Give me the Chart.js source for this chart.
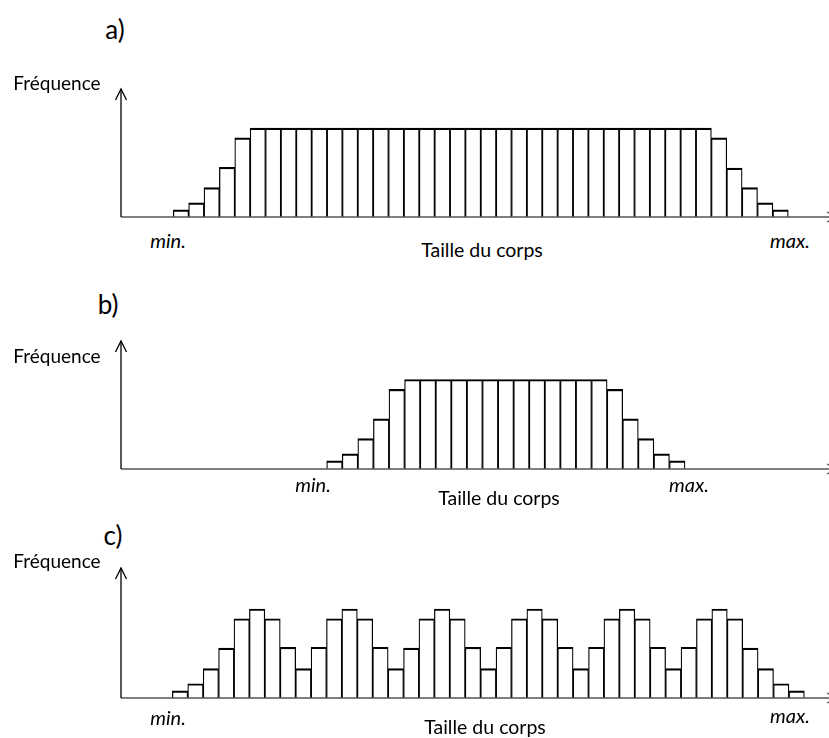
<!DOCTYPE html>
<html>
<head>
<meta charset="utf-8">
<script src="https://cdn.jsdelivr.net/npm/chart.js@4/dist/chart.umd.min.js"></script>
<style>
  html, body { margin: 0; padding: 0; background: #fff; overflow: hidden; }
  #page { position: relative; width: 829px; height: 738px; font-family: Lato, "Noto Sans", sans-serif; color: #000; }
  canvas { position: absolute; left: 0; }
  .lbl { position: absolute; transform: translate(-50%, -50%); white-space: nowrap; z-index: 2; }
  .lettre { font-size: 26px; }
  .freq { font-size: 19px; }
  .taille { font-size: 19.5px; }
  .borne { font-size: 20px; font-style: italic; }
</style>
</head>
<body>
<div id="page">
  <canvas id="panneauA" width="829" height="148" style="top:79px"></canvas>
  <canvas id="panneauB" width="829" height="148" style="top:331px"></canvas>
  <canvas id="panneauC" width="829" height="150" style="top:558px"></canvas>

  <div class="lbl lettre" style="left:115px;top:29px">a)</div>
  <div class="lbl freq" style="left:57px;top:82px">Fréquence</div>
  <div class="lbl borne" style="left:168px;top:240px">min.</div>
  <div class="lbl borne" style="left:790px;top:240px">max.</div>
  <div class="lbl taille" style="left:482px;top:249px">Taille du corps</div>

  <div class="lbl lettre" style="left:108px;top:304px">b)</div>
  <div class="lbl freq" style="left:57px;top:355px">Fréquence</div>
  <div class="lbl borne" style="left:313px;top:484px">min.</div>
  <div class="lbl borne" style="left:689px;top:484px">max.</div>
  <div class="lbl taille" style="left:499px;top:497px">Taille du corps</div>

  <div class="lbl lettre" style="left:113px;top:535px">c)</div>
  <div class="lbl freq" style="left:57px;top:560px">Fréquence</div>
  <div class="lbl borne" style="left:168px;top:717px">min.</div>
  <div class="lbl borne" style="left:790px;top:715px">max.</div>
  <div class="lbl taille" style="left:485px;top:726px">Taille du corps</div>
</div>
<script>
// fréquences (plateau = 100)
const freqA = [8, 16, 33, 56, 89,
  100, 100, 100, 100, 100, 100, 100, 100, 100, 100,
  100, 100, 100, 100, 100, 100, 100, 100, 100, 100,
  100, 100, 100, 100, 100, 100, 100, 100, 100, 100,
  89, 55, 33, 16, 8]

const freqB = [9, 17, 34, 56, 89,
  100, 100, 100, 100, 100, 100, 100, 100, 100, 100, 100, 100, 100,
  89, 56, 34, 17, 9]

const freqC = [8, 16, 33, 56, 89, 100, 89, 57, 33, 57, 89, 100, 89, 57, 33,
  56, 89, 100, 89, 57, 33, 57, 89, 100, 89, 57, 33, 57, 89, 100, 89,
  57, 33, 57, 89, 100, 89, 56, 33, 16, 8]

// étendue de l'axe horizontal, en classes de taille
const axeA = [-3.9, 42.15]
const axeB = [-13.7, 31.74]
const axeC = [-3.83, 42.1]

// haut de l'axe des fréquences
const hautA = 144
const hautB = 143
const hautC = 146

const fleches = {
  id: 'fleches',
  afterDatasetsDraw(chart) {
    const ctx = chart.ctx
    const a = chart.chartArea
    ctx.save()
    // axe x
    ctx.strokeStyle = '#555'
    ctx.lineWidth = 1.6
    ctx.beginPath()
    ctx.moveTo(a.left, a.bottom)
    ctx.lineTo(a.right + 6, a.bottom)
    ctx.stroke()
    ctx.lineWidth = 1.2
    ctx.beginPath()
    ctx.moveTo(a.right - 2, a.bottom - 5)
    ctx.lineTo(a.right + 8, a.bottom)
    ctx.lineTo(a.right - 2, a.bottom + 5)
    ctx.stroke()
    // axe y
    ctx.strokeStyle = '#000'
    ctx.lineWidth = 1.3
    ctx.beginPath()
    ctx.moveTo(a.left, a.bottom)
    ctx.lineTo(a.left, a.top)
    ctx.stroke()
    ctx.beginPath()
    ctx.moveTo(a.left - 5.5, a.top + 11)
    ctx.lineTo(a.left, a.top)
    ctx.lineTo(a.left + 5.5, a.top + 11)
    ctx.stroke()
    ctx.restore()
  }
}

function histo(id, freq, axe, haut) {
  const el = document.getElementById(id)
  return new Chart(el, {
    type: 'bar',
    data: {
      datasets: [{
        data: freq.map((v, i) => ({ x: i, y: v })),
        backgroundColor: '#fff',
        borderColor: '#000',
        borderWidth: { top: 2.2, left: 1.25, right: 1.25, bottom: 0 },
        borderSkipped: false,
        barPercentage: 1,
        categoryPercentage: 1
      }]
    },
    options: {
      responsive: false,
      animation: false,
      layout: { padding: { left: 121, right: 0, top: 10, bottom: el.height - 10 - 128 - (id === 'panneauC' ? 2 : 0) } },
      plugins: { legend: { display: false }, tooltip: { enabled: false } },
      scales: {
        x: { type: 'linear', display: false, offset: false, min: axe[0], max: axe[1], ticks: { stepSize: 100 } },
        y: { display: false, min: 0, max: haut }
      }
    },
    plugins: [fleches]
  })
}

histo('panneauA', freqA, axeA, hautA)
histo('panneauB', freqB, axeB, hautB)
histo('panneauC', freqC, axeC, hautC)
</script>
</body>
</html>
